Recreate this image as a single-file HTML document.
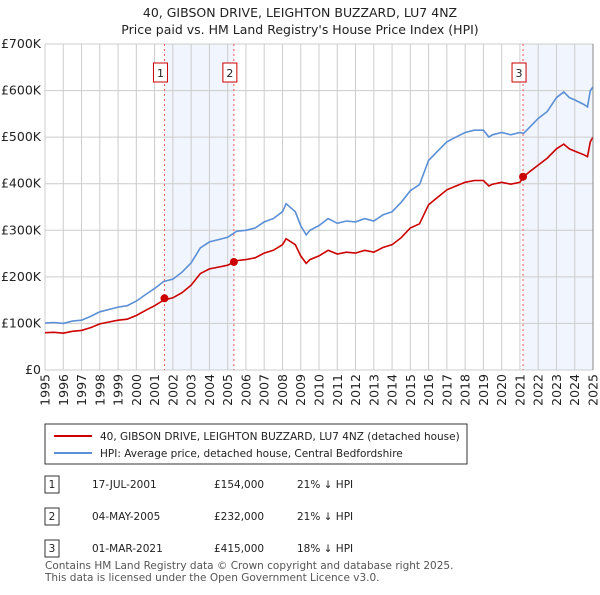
<!DOCTYPE html>
<html><head><meta charset="utf-8"><style>
body{margin:0;background:#fff;font-family:"Liberation Sans","DejaVu Sans",sans-serif;}
svg text{font-family:"DejaVu Sans","Liberation Sans",sans-serif;}
</style></head><body>
<svg id="c" width="600" height="590" viewBox="0 0 600 590" xmlns="http://www.w3.org/2000/svg">
<text x="300" y="17" text-anchor="middle" font-size="12.5" fill="#222">40, GIBSON DRIVE, LEIGHTON BUZZARD, LU7 4NZ</text>
<text x="300" y="34" text-anchor="middle" font-size="12.5" fill="#222">Price paid vs. HM Land Registry's House Price Index (HPI)</text>
<g id="grid"></g><g id="plot"></g><g id="axes"></g>
<rect x="45" y="424" width="422" height="40" fill="#fff" stroke="#333"/>
<line x1="54" y1="436" x2="92" y2="436" stroke="#cc0000" stroke-width="2"/>
<text x="100" y="440" font-size="10.5" fill="#222">40, GIBSON DRIVE, LEIGHTON BUZZARD, LU7 4NZ (detached house)</text>
<line x1="54" y1="453" x2="92" y2="453" stroke="#5b8fd6" stroke-width="2"/>
<text x="100" y="457" font-size="10.5" fill="#222">HPI: Average price, detached house, Central Bedfordshire</text>
<g id="table" font-size="10.5" fill="#222"></g>
<text x="45" y="569" font-size="10.5" fill="#555">Contains HM Land Registry data © Crown copyright and database right 2025.</text>
<text x="45" y="581" font-size="10.5" fill="#555">This data is licensed under the Open Government Licence v3.0.</text>
</svg>
<script>
const years=[1995,1995.5,1996,1996.5,1997,1997.5,1998,1998.5,1999,1999.5,2000,2000.5,2001,2001.5,2002,2002.5,2003,2003.5,2004,2004.5,2005,2005.5,2006,2006.5,2007,2007.5,2008,2008.2,2008.7,2009,2009.3,2009.5,2010,2010.5,2011,2011.5,2012,2012.5,2013,2013.5,2014,2014.5,2015,2015.5,2016,2016.5,2017,2017.5,2018,2018.5,2019,2019.3,2019.5,2020,2020.5,2021,2021.2,2021.5,2022,2022.5,2023,2023.4,2023.7,2024,2024.5,2024.7,2024.85,2025];
const hpiValues=[101,102,100,105,107,115,125,130,135,138,148,162,175,190,195,210,230,262,275,280,285,298,300,305,318,325,340,357,340,310,290,300,310,325,315,320,318,325,320,333,340,360,385,398,450,470,490,500,510,515,515,500,505,510,505,510,508,520,540,555,585,597,585,580,570,565,600,608];
const priceValues=[80,81,79,83,85,91,99,103,107,109,117,128,138,150,155,166,182,207,217,221,225,235,237,241,251,257,269,282,269,245,229,237,245,257,249,253,251,257,253,263,269,284,305,314,355,371,387,395,403,407,407,395,399,403,399,403,415,425,440,455,475,485,475,470,462,458,490,500];
const saleYears=[2001.54,2005.34,2021.17];
const salePrices=[154,232,415];
const saleLabels=["1","2","3"];
const saleDates=["17-JUL-2001","04-MAY-2005","01-MAR-2021"];
const salePriceText=["£154,000","£232,000","£415,000"];
const saleHpiText=["21% ↓ HPI","21% ↓ HPI","18% ↓ HPI"];
const yTicks=[0,100,200,300,400,500,600,700];
const yTickLabels=["£0","£100K","£200K","£300K","£400K","£500K","£600K","£700K"];
const xTicks=[1995,1996,1997,1998,1999,2000,2001,2002,2003,2004,2005,2006,2007,2008,2009,2010,2011,2012,2013,2014,2015,2016,2017,2018,2019,2020,2021,2022,2023,2024,2025];

const NS="http://www.w3.org/2000/svg";
const X0=45,X1=593,Y0=370,Y1=44;
const xs=y=>X0+(y-1995)/30*(X1-X0);
const ys=v=>Y0-v/700*(Y0-Y1);
function mk(tag,attrs,parent){const e=document.createElementNS(NS,tag);for(const k in attrs)e.setAttribute(k,attrs[k]);parent.appendChild(e);return e;}
const grid=document.getElementById('grid'),plot=document.getElementById('plot'),axes=document.getElementById('axes'),table=document.getElementById('table');
for(let i=0;i<saleYears.length;i++){
  const end=i===0?saleYears[1]:(i===2?2025:null);
  if(end===null)continue;
  const r=mk('rect',{x:xs(saleYears[i]),y:Y1,width:xs(end)-xs(saleYears[i]),height:Y0-Y1,fill:'#eef3fc',opacity:0.8},grid);
  
  
}
yTicks.forEach((v,i)=>{
  const l=mk('line',{x1:X0,x2:X1,y1:ys(v),y2:ys(v),stroke:'#ccc'},grid);
  
  
  const t=mk('text',{x:X0-4,y:ys(v)+4,'text-anchor':'end','font-size':'12.5',fill:'#222'},axes);
  t.textContent=yTickLabels[i];
  
  
});
xTicks.forEach(y=>{
  const l=mk('line',{x1:xs(y),x2:xs(y),y1:Y1,y2:Y0,stroke:'#ccc'},grid);
  
  
  const tx=xs(y)+4.5,ty=Y0+4;
  const t=mk('text',{x:tx,y:ty,'text-anchor':'end','font-size':'12.5',fill:'#222',transform:'rotate(-90 '+tx+' '+ty+')'},axes);
  t.textContent=String(y);
  
  
});
saleYears.forEach((y,i)=>{
  const l=mk('line',{x1:xs(y),x2:xs(y),y1:Y1,y2:Y0,stroke:'#ee5555','stroke-dasharray':'2,3'},grid);
  
  
  const b=mk('rect',{x:xs(y)-11,y:63,width:14,height:19,fill:'#fff',stroke:'#cc0000'},axes);
  
  
  const t=mk('text',{x:xs(y)-4,y:77,'text-anchor':'middle','font-size':'11',fill:'#222'},axes);
  t.textContent=saleLabels[i];
  
  
});
const pathOf=vals=>vals.map((v,i)=>(i?'L':'M')+xs(years[i]).toFixed(1)+','+ys(v).toFixed(1)).join(' ');
const hp=mk('path',{d:pathOf(hpiValues),fill:'none',stroke:'#5b8fd6','stroke-width':1.6},plot);


const pp=mk('path',{d:pathOf(priceValues),fill:'none',stroke:'#cc0000','stroke-width':1.6},plot);


saleYears.forEach((y,i)=>{
  const c=mk('circle',{cx:xs(y),cy:ys(salePrices[i]),r:4,fill:'#cc0000'},plot);
  
  
});
const ax=mk('line',{x1:X1,x2:X1,y1:Y1,y2:Y0,stroke:'#888'},axes);


saleYears.forEach((y,i)=>{
  const ry=488+i*32;
  const b=mk('rect',{x:45,y:ry-12,width:14,height:17,fill:'#fff',stroke:'#333'},table);
  
  
  const cells=[[52,saleLabels[i],'middle'],[92,saleDates[i],'start'],[214,salePriceText[i],'start'],[297,saleHpiText[i],'start']];
  const names=['table-index','table-date','table-price','table-hpi-diff'];
  cells.forEach((c,j)=>{
    const t=mk('text',{x:c[0],y:ry,'text-anchor':c[2]},table);
    t.textContent=c[1];
    
    
  });
});
</script>
</body></html>
